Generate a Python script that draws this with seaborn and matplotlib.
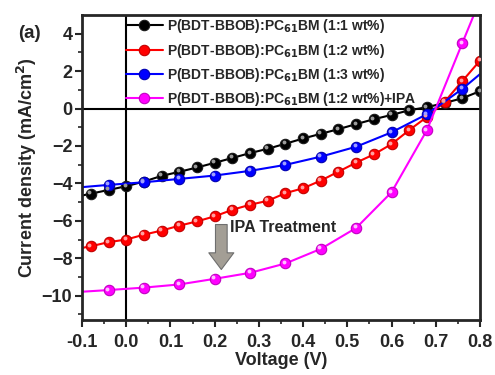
import numpy as np
import matplotlib
matplotlib.use('Agg')
import matplotlib.pyplot as plt
import matplotlib.transforms as mtransforms
import seaborn as sns

# J-V data (V, mA/cm2)
v_11 = [-0.1, -0.08, -0.04, 0.0, 0.04, 0.08, 0.12, 0.16, 0.2, 0.24, 0.28, 0.32, 0.36,
        0.40, 0.44, 0.48, 0.52, 0.56, 0.60, 0.64, 0.68, 0.72, 0.76, 0.8]
j_11 = [-4.65, -4.55, -4.35, -4.15, -3.9, -3.6, -3.38, -3.15, -2.9, -2.64, -2.38, -2.15, -1.88,
        -1.6, -1.35, -1.1, -0.83, -0.57, -0.34, -0.09, 0.07, 0.3, 0.55, 0.93]

v_12 = [-0.1, -0.08, -0.04, 0.0, 0.04, 0.08, 0.12, 0.16, 0.2, 0.24, 0.28, 0.32, 0.36,
        0.40, 0.44, 0.48, 0.52, 0.56, 0.60, 0.64, 0.68, 0.72, 0.76, 0.8]
j_12 = [-7.45, -7.36, -7.14, -7.0, -6.74, -6.52, -6.26, -6.03, -5.76, -5.41, -5.14, -4.93, -4.52,
        -4.26, -3.85, -3.37, -2.89, -2.45, -1.9, -1.15, -0.45, 0.36, 1.47, 2.56]

v_13 = [-0.1, -0.04, 0.04, 0.12, 0.2, 0.28, 0.36, 0.44, 0.52, 0.60, 0.68, 0.76, 0.8]
j_13 = [-4.2, -4.08, -3.94, -3.76, -3.58, -3.33, -3.01, -2.57, -2.04, -1.27, -0.3, 1.05, 1.84]

v_ipa = [-0.1, -0.04, 0.04, 0.12, 0.2, 0.28, 0.36, 0.44, 0.52, 0.60, 0.68, 0.76, 0.8]
j_ipa = [-9.79, -9.7, -9.57, -9.4, -9.1, -8.78, -8.28, -7.5, -6.38, -4.47, -1.15, 3.5, 5.8]

labels = ['P(BDT-BBOB):PC$_{61}$BM (1:1 wt%)',
          'P(BDT-BBOB):PC$_{61}$BM (1:2 wt%)',
          'P(BDT-BBOB):PC$_{61}$BM (1:3 wt%)',
          'P(BDT-BBOB):PC$_{61}$BM (1:2 wt%)+IPA']

sns.set_style('ticks')
plt.rcParams['font.family'] = ['Liberation Sans', 'DejaVu Sans']
plt.rcParams['font.weight'] = 'bold'
plt.rcParams['mathtext.default'] = 'bf'

fig = plt.figure(figsize=(4.95, 3.75), dpi=100)
ax = fig.add_axes([0.1657, 0.1467, 0.804, 0.8133])

series = [(v_11, j_11, 'black', '#1a1a1a', '#9a9a9a'),
          (v_12, j_12, 'red', '#c00000', '#ffa0a0'),
          (v_13, j_13, 'blue', '#0000b0', '#a0a0ff'),
          (v_ipa, j_ipa, '#ff00ff', '#c000c0', '#ffc0ff')]

# marker indices (line has extra end points without markers)
marks = [list(range(1, 24)), list(range(1, 24)), list(range(1, 12)), list(range(1, 12))]

shine = mtransforms.offset_copy(ax.transData, fig=fig, x=-1.5, y=1.5, units='dots')
for (v, j, c, ec, hl), lab, m in zip(series, labels, marks):
    sns.lineplot(x=v, y=j, ax=ax, color=c, lw=1.5, marker='o', markersize=7.5,
                 markerfacecolor=c, markeredgecolor=ec, markeredgewidth=0.8,
                 markevery=m, label=lab, sort=False, estimator=None)
    ax.plot(np.array(v)[m], np.array(j)[m], 'o', ms=2.8, color=hl, mec='none',
            transform=shine, zorder=4)

ax.axhline(0, color='black', lw=1.5, zorder=1)
ax.axvline(0, color='black', lw=1.5, zorder=1)

ax.set_xlim(-0.1, 0.8)
ax.set_ylim(-11.3, 5)
ax.set_xticks(np.arange(-0.1, 0.81, 0.1))
ax.set_xticklabels(['-0.1', '0.0', '0.1', '0.2', '0.3', '0.4', '0.5', '0.6', '0.7', '0.8'])
ax.set_xticks(np.arange(-0.05, 0.8, 0.1), minor=True)
ax.set_yticks([-10, -8, -6, -4, -2, 0, 2, 4])
ax.set_yticks(np.arange(-11, 5, 2), minor=True)
ax.tick_params(which='major', direction='out', length=5, width=1.5, labelsize=13)
ax.tick_params(axis='x', which='major', pad=5)
ax.tick_params(axis='y', which='major', pad=2)
ax.tick_params(which='minor', direction='out', length=3, width=1.2)
for s in ax.spines.values():
    s.set_linewidth(2)
    s.set_visible(True)

ax.set_xlabel('Voltage (V)', fontsize=13, fontweight='bold', labelpad=1)
ax.set_ylabel('Current density (mA/cm$^2$)', fontsize=13, fontweight='bold', labelpad=2)

leg = ax.legend(loc='upper left', bbox_to_anchor=(0.108, 0.997), frameon=False,
                fontsize=10, handlelength=2.6, handletextpad=0.3, labelspacing=0.45,
                borderaxespad=0, borderpad=0.1)

ax.annotate('', xy=(0.215, -8.75), xytext=(0.215, -6.05),
            arrowprops=dict(arrowstyle='simple,head_width=1.5,head_length=1.0,tail_width=0.7',
                            fc='#a39e95', ec='#6e6e6e', lw=0.8, mutation_scale=12))
ax.text(0.235, -6.35, 'IPA Treatment', fontsize=11.5, fontweight='bold', va='center')

fig.text(0.06, 0.91, '(a)', fontsize=13.5, fontweight='bold', ha='center', va='center')

fig.savefig('out.png', dpi=100)
